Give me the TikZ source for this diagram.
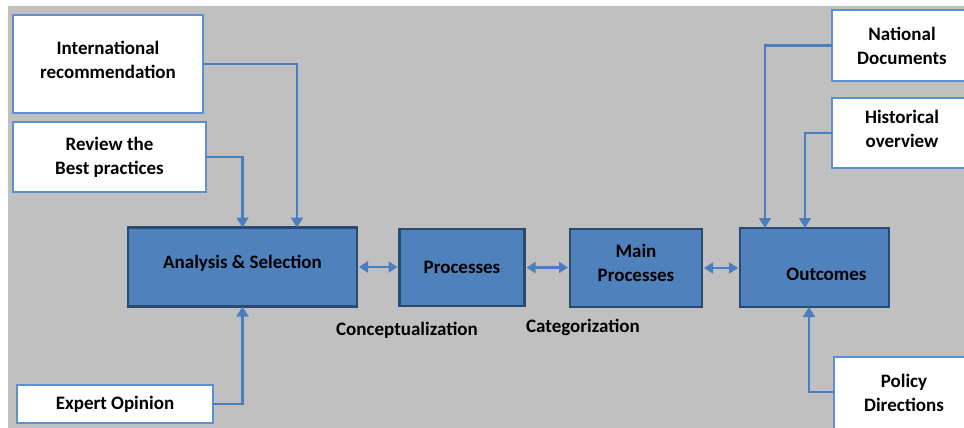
\documentclass[tikz,border=0pt]{standalone}
\usepackage{fontspec}
\setmainfont{Carlito}
\usetikzlibrary{arrows.meta}
\definecolor{bg}{HTML}{C0C0C0}
\definecolor{boxblue}{HTML}{4F81BD}
\definecolor{boxedge}{HTML}{2A4A72}
\definecolor{arrowblue}{HTML}{4A7EBF}
\definecolor{whiteedge}{HTML}{5B8FD0}
\begin{document}
\begin{tikzpicture}[x=1pt,y=-1pt,
  txt/.style={font=\bfseries\fontsize{19}{24}\selectfont, align=center},
  wbox/.style={txt, draw=whiteedge, line width=1.6pt, fill=white, inner sep=0pt, outer sep=0pt},
  bbox/.style={txt, draw=boxedge, line width=2.2pt, fill=boxblue, inner sep=0pt, outer sep=0pt},
  conn/.style={draw=arrowblue, line width=2.2pt, -{Triangle[length=10pt,width=12pt]}},
  dconn/.style={draw=arrowblue, line width=2.2pt, {Triangle[length=9pt,width=11pt]}-{Triangle[length=9pt,width=11pt]}, shorten >=2pt, shorten <=2pt},
  lbl/.style={txt}]
\useasboundingbox (0,0) rectangle (964,428);
\clip (0,0) rectangle (964,428);
\fill[white] (0,0) rectangle (964,428);
\fill[bg] (8,6) rectangle (964,428);

% left boxes
\node[wbox, minimum width=190pt, minimum height=98pt] (ir) at (108,64) {International\\recommendation\\[-16pt]\mbox{}};
\node[wbox, minimum width=193pt, minimum height=70pt] (rb) at (109.5,157) {Review the\\Best practices};
\node[wbox, minimum width=196pt, minimum height=38pt] (eo) at (115,404) {Expert Opinion};

% main boxes
\node[bbox, minimum width=229pt, minimum height=79pt] (as) at (242.5,267) {Analysis \& Selection\\[-14pt]\mbox{}};
\node[bbox, minimum width=125pt, minimum height=77pt] (pr) at (462,267.5) {Processes};
\node[bbox, minimum width=132pt, minimum height=78pt] (mp) at (636,268) {Main\\Processes\\[-13pt]\mbox{}};
\node[bbox, minimum width=149pt, minimum height=79pt] (oc) at (814.5,267.5) {\mbox{}\\[3pt]\hspace*{24pt}Outcomes};

% right boxes
\node[wbox, minimum width=140pt, minimum height=71pt] (nd) at (902,45.5) {National\\Documents};
\node[wbox, minimum width=140pt, minimum height=70pt] (ho) at (902,133) {Historical\\overview\\[-15pt]\mbox{}};
\node[wbox, minimum width=140pt, minimum height=80pt] (pd) at (904,397) {Policy\\Directions\\[-15pt]\mbox{}};

% labels
\node[lbl] (c1) at (407,330) {Conceptualization};
\node[lbl] (c2) at (583,327) {Categorization};

% connectors
\draw[conn] (ir.east) -| ([xshift=54.5pt]as.north);
\draw[conn] (rb.east) -| (as.north);
\draw[conn] (eo.east) -| (as.south);
\draw[conn] (nd.west) -| ([xshift=-49.5pt]oc.north);
\draw[conn] (ho.west) -| ([xshift=-9.5pt]oc.north);
\draw[conn] ([yshift=5pt]pd.west) -| ([xshift=-5.5pt]oc.south);

\draw[dconn] (as.east) -- (as.east -| pr.west);
\draw[dconn] (pr.east) -- (pr.east -| mp.west);
\draw[dconn] (mp.east) -- (mp.east -| oc.west);
\end{tikzpicture}
\end{document}
